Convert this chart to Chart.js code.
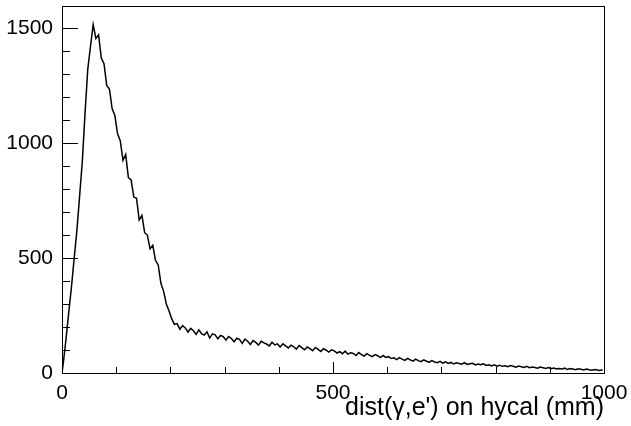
<!DOCTYPE html>
<html>
<head>
<meta charset="utf-8">
<script src="https://cdn.jsdelivr.net/npm/chart.js@4/dist/chart.umd.min.js"></script>
<style>
  html, body { margin: 0; padding: 0; background: #fff; }
  #wrap { width: 631px; height: 426px; position: relative; }
</style>
</head>
<body>
<div id="wrap"><canvas id="hist"></canvas></div>
<script>
// histogram of dist(gamma,e') on hycal, 200 bins of 5 mm from 0 to 1000
const binLow = 0;
const binWidth = 5;
const counts = [
  45, 150, 265, 375, 500, 620, 770, 920, 1130, 1320, 1420, 1515, 1455, 1470, 1370, 1345, 1250, 1235, 1150, 1120,
  1040, 1010, 925, 950, 850, 840, 765, 760, 665, 685, 610, 600, 540, 555, 490, 470, 390, 355, 300, 270,
  235, 212, 215, 190, 206, 196, 178, 194, 184, 168, 188, 171, 165, 179, 152, 170, 166, 149, 163, 158,
  143, 159, 150, 136, 151, 146, 129, 147, 138, 124, 141, 133, 121, 138, 131, 126, 118, 134, 122, 127,
  113, 127, 118, 109, 121, 114, 104, 119, 110, 101, 113, 106, 97, 111, 103, 94, 106, 99, 91, 101,
  96, 87, 93, 84, 95, 82, 88, 85, 76, 89, 80, 74, 84, 77, 71, 80, 75, 67, 76, 68,
  71, 63, 66, 58, 67, 60, 55, 64, 57, 52, 60, 54, 49, 57, 51, 47, 54, 48, 45, 51,
  43, 49, 42, 46, 39, 44, 41, 38, 45, 37, 40, 42, 35, 39, 36, 40, 33, 36, 31, 36,
  30, 34, 29, 31, 27, 32, 29, 25, 30, 27, 24, 29, 23, 26, 24, 21, 26, 23, 20, 24,
  19, 22, 18, 20, 17, 21, 15, 19, 17, 14, 18, 16, 13, 17, 14, 12, 15, 13, 11, 14
];
const xTicks = [0, 500, 1000];
const yTicks = [0, 500, 1000, 1500];
const xRange = [0, 1000];
const yRange = [0, 1596];
const xTitle = "dist(\u03b3,e') on hycal (mm)";

// outline through the bin centres, starting from zero at the low edge
const points = [{ x: binLow, y: 0 }].concat(
  counts.map((c, i) => ({ x: binLow + (i + 0.5) * binWidth, y: c }))
);

const FONT = 'Liberation Sans, Arial, Helvetica, sans-serif';

// ROOT-like frame with inward ticks
const rootFrame = {
  id: 'rootFrame',
  afterDraw(chart) {
    const { ctx, chartArea: a, scales } = chart;
    const xs = scales.x, ys = scales.y;
    ctx.save();
    ctx.strokeStyle = '#000';
    ctx.lineWidth = 1;
    ctx.strokeRect(Math.round(a.left) + 0.5, Math.round(a.top) + 0.5,
      Math.round(a.right - a.left), Math.round(a.bottom - a.top));
    ctx.beginPath();
    for (let v = 0; v <= 1000; v += 100) {
      const px = Math.round(xs.getPixelForValue(v)) + 0.5;
      const len = v % 500 === 0 ? 11 : 6;
      ctx.moveTo(px, a.bottom);
      ctx.lineTo(px, a.bottom - len);
    }
    for (let v = 0; v <= 1500; v += 100) {
      const py = Math.round(ys.getPixelForValue(v)) + 0.5;
      const len = v % 500 === 0 ? 16 : 8;
      ctx.moveTo(a.left, py);
      ctx.lineTo(a.left + len, py);
    }
    ctx.stroke();
    ctx.restore();
  }
};

new Chart(document.getElementById('hist'), {
  type: 'line',
  data: {
    datasets: [{
      data: points,
      borderColor: '#000',
      borderWidth: 1.5,
      tension: 0,
      pointRadius: 0,
      fill: false
    }]
  },
  options: {
    responsive: true,
    maintainAspectRatio: false,
    animation: false,
    layout: { padding: { top: 6, right: 27, left: 0, bottom: 0 } },
    plugins: { legend: { display: false }, tooltip: { enabled: false } },
    scales: {
      x: {
        type: 'linear',
        min: xRange[0],
        max: xRange[1],
        afterBuildTicks: s => { s.ticks = xTicks.map(v => ({ value: v })); },
        afterFit: s => { s.height = 53; s.paddingLeft = 0; s.paddingRight = 0; },
        grid: { display: false, drawTicks: false },
        border: { display: false },
        ticks: {
          color: '#000', padding: 8, maxRotation: 0,
          font: { family: FONT, size: 21 },
          callback: v => String(v)
        },
        title: {
          display: true, text: xTitle, align: 'end', color: '#000',
          padding: { top: 0, bottom: 3 }, font: { family: FONT, size: 25 }
        }
      },
      y: {
        type: 'linear',
        min: yRange[0],
        max: yRange[1],
        afterBuildTicks: s => { s.ticks = yTicks.map(v => ({ value: v })); },
        afterFit: s => { s.width = 62; s.paddingTop = 0; s.paddingBottom = 0; },
        grid: { display: false, drawTicks: false },
        border: { display: false },
        ticks: {
          color: '#000', padding: 9,
          font: { family: FONT, size: 21 },
          callback: v => String(v)
        }
      }
    }
  },
  plugins: [rootFrame]
});
</script>
</body>
</html>
